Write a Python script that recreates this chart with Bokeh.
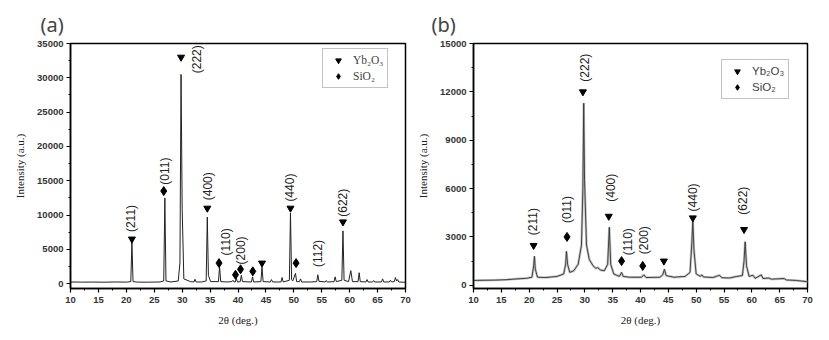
import math
from bokeh.plotting import figure
from bokeh.layouts import row
from bokeh.models import Legend, LegendItem, Range1d, SingleIntervalTicker, ColumnDataSource
from bokeh.embed import file_html
from bokeh.resources import INLINE

# ---------------- panel (a) data ----------------
a_two_theta = [10, 12, 14, 16, 18, 20, 20.8, 21.0, 21.2, 22, 24, 26, 26.7, 26.9, 27.1, 28,
               29.3, 29.6, 29.8, 30.0, 30.3, 31.5, 32.1, 32.3, 32.5, 33.5, 34.3, 34.5, 34.7,
               35.1, 36.5, 36.7, 36.9, 38, 38.9, 39.1, 39.3, 39.5, 39.7, 39.9, 40.4, 40.6,
               40.8, 42.4, 42.6, 42.8, 44.1, 44.3, 44.5, 45.8, 46.0, 46.2, 47.7, 47.9, 48.1,
               49.2, 49.4, 49.6, 49.8, 50.3, 50.5, 51.0, 51.2, 51.4, 53, 54.1, 54.3, 54.5,
               55.6, 55.8, 56.0, 57.2, 57.4, 57.6, 58.6, 58.8, 59.0, 59.8, 60.2, 60.5, 61.5,
               61.7, 61.9, 62.9, 63.1, 63.3, 64.1, 64.3, 64.5, 65.7, 65.9, 66.1, 67.1, 67.3,
               67.5, 68.0, 68.2, 68.4, 68.6, 68.8, 70]
a_intensity = [250, 230, 240, 220, 250, 230, 300, 6000, 300, 230, 220, 250, 400, 12500, 400, 250,
               400, 3000, 30500, 11000, 700, 300, 250, 650, 250, 250, 400, 9700, 1200,
               300, 300, 2500, 300, 250, 300, 500, 250, 250, 800, 250, 300, 1200,
               300, 250, 1000, 250, 300, 2400, 300, 250, 600, 250, 250, 900, 250,
               500, 10300, 600, 400, 1500, 300, 300, 700, 250, 250, 300, 1300, 350,
               250, 450, 250, 300, 1000, 300, 500, 7700, 500, 300, 1900, 300, 300,
               1600, 300, 250, 600, 250, 250, 450, 250, 250, 700, 250, 250, 500,
               250, 300, 900, 400, 600, 250, 200]
a_yb_x = [21.0, 29.8, 34.5, 44.3, 49.4, 58.8]
a_yb_y = [6500, 33000, 11000, 3000, 11000, 9000]
a_si_x = [26.7, 36.6, 39.55, 40.45, 42.65, 50.4]
a_si_y = [13500, 3000, 1300, 2100, 1800, 3000]
a_hkl = ["(211)", "(011)", "(222)", "(400)", "(110)", "(200)", "(440)", "(112)", "(622)"]
a_hkl_x = [20.9, 26.9, 32.6, 34.7, 37.8, 40.6, 49.4, 54.4, 58.8]
a_hkl_y = [9500, 16400, 32700, 14200, 6100, 4850, 14000, 4400, 11800]

# ---------------- panel (b) data ----------------
b_two_theta = [10, 12, 14, 16, 18, 19.5, 20.5, 20.8, 20.95, 21.1, 21.5, 23, 25, 26.2, 26.55,
               26.7, 26.9, 27.3, 28, 28.8, 29.4, 29.65, 29.8, 29.95, 30.3, 30.8, 31.5, 32.0,
               32.3, 32.8, 33.5, 34.1, 34.4, 34.65, 35.2, 36.2, 36.6, 36.9, 38, 40.2, 40.6,
               41, 43.5, 44.0, 44.3, 44.6, 46, 48, 48.9, 49.2, 49.4, 49.6, 50.0, 50.8, 51.0,
               51.3, 53, 54.2, 54.6, 56, 57.3, 58.3, 58.6, 58.8, 59.05, 59.5, 60.2, 60.6,
               61.7, 62, 63, 63.5, 65.8, 66.2, 68, 70]
b_intensity = [300, 310, 320, 350, 400, 430, 500, 1200, 1800, 1000, 500, 480, 550, 700, 1300,
               2100, 1300, 800, 900, 1300, 2500, 6000, 11300, 6500, 2500, 1600, 1200, 1050,
               1100, 950, 900, 1300, 3600, 1300, 700, 550, 800, 550, 500, 500, 650,
               480, 500, 650, 1000, 600, 500, 550, 800, 2500, 4000, 2200, 700, 550, 650,
               520, 480, 620, 470, 450, 550, 600, 1500, 2700, 1200, 550, 620, 430,
               650, 420, 450, 380, 420, 330, 300, 220]
b_yb_x = [20.8, 29.65, 34.3, 44.2, 49.4, 58.6]
b_yb_y = [2470, 12000, 4280, 1500, 4180, 3460]
b_si_x = [26.8, 36.6, 40.4]
b_si_y = [3000, 1500, 1200]
b_hkl = ["(211)", "(011)", "(222)", "(400)", "(110)", "(200)", "(440)", "(622)"]
b_hkl_x = [20.75, 26.8, 30.0, 34.7, 37.8, 40.6, 49.4, 58.5]
b_hkl_y = [3950, 4700, 13500, 6050, 2700, 2800, 5450, 5250]


def make_panel(tag, xs, ys, yb_x, yb_y, si_x, si_y, hkl, hkl_x, hkl_y,
               ymin, ymax, yint, width, bl, br, bt, bb, legend_xy, legend_font,
               title_offset, noisy):
    p = figure(width=width, height=340, output_backend="svg", toolbar_location=None,
               x_range=Range1d(10, 70), y_range=Range1d(ymin, ymax),
               min_border_left=bl, min_border_right=br, min_border_top=bt,
               min_border_bottom=bb)
    p.title.text = tag
    p.title.text_font = "Noto Sans"
    p.title.text_font_style = "normal"
    p.title.text_font_size = "20px"
    p.title.align = "left"
    p.title.offset = title_offset
    p.title.standoff = 12
    p.xgrid.visible = False
    p.ygrid.visible = False
    p.outline_line_color = "black"
    p.outline_line_width = 1.5
    p.background_fill_color = "white"
    p.border_fill_color = "white"

    p.xaxis.ticker = SingleIntervalTicker(interval=5, num_minor_ticks=2)
    p.yaxis.ticker = SingleIntervalTicker(interval=yint, num_minor_ticks=2)
    for ax in (p.xaxis[0], p.yaxis[0]):
        ax.major_tick_in = 0
        ax.major_tick_out = 4
        ax.minor_tick_in = 0
        ax.minor_tick_out = 2
        ax.axis_line_width = 1.5
        ax.major_tick_line_width = 1.2
        ax.major_label_text_font = "Liberation Sans"
        ax.major_label_text_font_style = "bold"
        ax.major_label_text_font_size = "9.5px"
        ax.major_label_text_color = "#333333"
        ax.axis_label_text_font = "Liberation Serif"
        ax.axis_label_text_font_style = "normal"
        ax.axis_label_text_font_size = "11px"
        ax.axis_label_text_color = "#222222"
    p.xaxis.axis_label = "2θ (deg.)"
    p.yaxis.axis_label = "Intensity (a.u.)"
    p.xaxis.major_label_standoff = 4
    p.yaxis.major_label_standoff = 3
    p.xaxis.axis_label_standoff = 8
    p.yaxis.axis_label_standoff = 8

    if noisy:
        p.line(xs, ys, line_color="#c4c4c4", line_width=2.5)
        p.line(xs, ys, line_color="#333333", line_width=0.9)
    else:
        p.line(xs, ys, line_color="#222222", line_width=1)

    r_yb = p.scatter(yb_x, yb_y, marker="inverted_triangle", size=7,
                     fill_color="black", line_color="black")
    r_si = p.scatter(si_x, si_y, marker="diamond", size=9,
                     fill_color="black", line_color="black")

    src = ColumnDataSource(dict(x=hkl_x, y=hkl_y, t=hkl))
    p.text(x="x", y="y", text="t", source=src, angle=math.pi / 2,
           text_align="center", text_baseline="middle",
           text_font_size="12px", text_color="#222222",
           text_font={"value": "Liberation Sans"})

    legend = Legend(items=[LegendItem(label="Yb₂O₃", renderers=[r_yb]),
                           LegendItem(label="SiO₂", renderers=[r_si])],
                    location=legend_xy)
    legend.label_text_font = legend_font
    legend.label_text_font_size = "11.5px"
    legend.label_height = 14
    legend.glyph_height = 14
    legend.glyph_width = 22
    legend.label_standoff = 4
    legend.padding = 4
    legend.spacing = 2
    legend.border_line_color = "#888888"
    legend.border_line_width = 1
    legend.background_fill_color = "white"
    legend.background_fill_alpha = 1
    p.add_layout(legend, "center")
    return p


pa = make_panel("(a)", a_two_theta, a_intensity, a_yb_x, a_yb_y, a_si_x, a_si_y,
                a_hkl, a_hkl_x, a_hkl_y, -700, 35000, 5000,
                414, 70, 9, 43, 52, (252, 200), "Liberation Serif", -30, False)
pb = make_panel("(b)", b_two_theta, b_intensity, b_yb_x, b_yb_y, b_si_x, b_si_y,
                b_hkl, b_hkl_x, b_hkl_y, -200, 15000, 3000,
                415, 58, 22, 43, 51, (248, 189), "Liberation Sans", -42, True)

layout = row(pa, pb)
open("out.html", "w").write(file_html(layout, INLINE))
